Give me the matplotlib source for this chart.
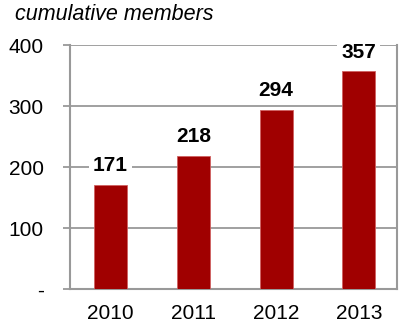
import matplotlib
matplotlib.use('Agg')
import matplotlib.pyplot as plt

years = ['2010', '2011', '2012', '2013']
members = [171, 218, 294, 357]

plt.rcParams['font.family'] = ['Liberation Sans', 'DejaVu Sans']

fig = plt.figure(figsize=(4, 3.24), dpi=100)
ax = fig.add_axes([0.175, 0.108, 0.8175, 0.753])

x = range(len(years))
ax.bar(x, members, width=0.4, color='#a00000', edgecolor='#d06060', linewidth=0.6, zorder=3)

# value labels sit on a white box that hides the gridline behind them
for xi, v in zip(x, members):
    ax.annotate(str(v), (xi, v), xytext=(0, 7), textcoords='offset points',
                ha='center', va='bottom', fontsize=15, fontweight='bold', zorder=2,
                bbox=dict(facecolor='white', edgecolor='none', pad=3))

ax.set_xlim(-0.49, 3.46)
ax.set_ylim(0, 400)
ax.set_yticks([0, 100, 200, 300, 400])
ax.set_yticklabels(['-', '100', '200', '300', '400'], fontsize=15)
ax.set_xticks(list(x))
ax.set_xticklabels(years, fontsize=15)

ax.yaxis.grid(True, color='#999999', linewidth=1.3, zorder=0)
ax.set_axisbelow(True)
ax.tick_params(axis='x', length=0, pad=11)
ax.tick_params(axis='y', length=5, width=1.3, color='#999999', pad=14)

for side in ['left', 'bottom', 'right']:
    ax.spines[side].set_color('#999999')
    ax.spines[side].set_linewidth(1.5)
ax.spines['top'].set_visible(False)

fig.text(0.037, 0.955, 'cumulative members', fontsize=15.5, style='italic', va='center')

fig.savefig('out.png', dpi=100)
